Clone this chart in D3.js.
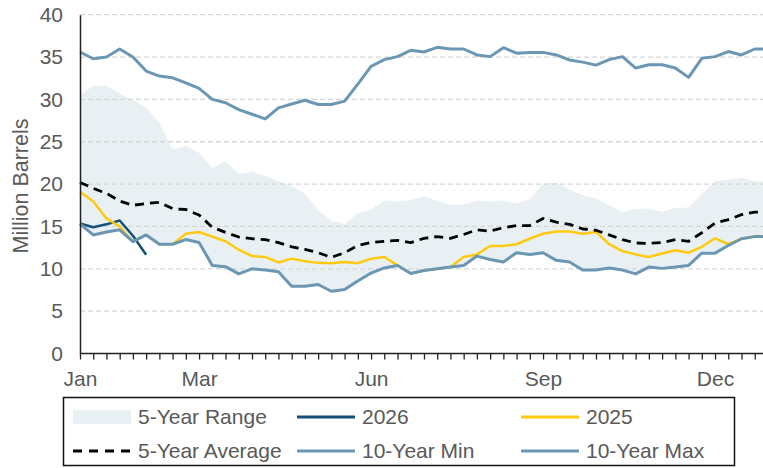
<!DOCTYPE html>
<html>
<head>
<meta charset="utf-8">
<script src="https://cdn.jsdelivr.net/npm/d3@7"></script>
<style>
  html, body { margin: 0; padding: 0; background: #fff; }
  svg { display: block; font-family: "Liberation Sans", Arial, sans-serif; }
</style>
</head>
<body>
<div id="chart"></div>
<script>
// weekly points, week 0 = first week of Jan
const weeks = d3.range(53);

const monthTicks = [0, 9, 22, 35, 48];
const monthLabels = ['Jan', 'Mar', 'Jun', 'Sep', 'Dec'];
const yTicks = [0, 5, 10, 15, 20, 25, 30, 35, 40];

const rangeHigh = [30.5, 31.6, 31.6, 30.7, 29.9, 29.0, 27.25, 24.1, 24.5, 23.7,
  21.9, 22.7, 21.2, 21.45, 21.0, 20.35, 19.75, 18.9, 16.9, 15.7,
  15.3, 16.6, 17.0, 18.05, 17.95, 18.1, 18.6, 18.0, 17.55, 17.55,
  18.05, 17.95, 18.05, 17.7, 18.25, 20.05, 20.15, 19.35, 18.7, 18.3,
  17.5, 16.7, 17.1, 17.1, 16.7, 17.2, 17.2, 18.8, 20.35, 20.55,
  20.75, 20.35, 20.35];

const rangeLow = [15.3, 14.0, 14.35, 14.6, 13.2, 14.0, 12.9, 12.9, 13.45, 13.1,
  10.4, 10.25, 9.4, 10.0, 9.85, 9.65, 7.95, 7.95, 8.15, 7.35,
  7.55, 8.55, 9.5, 10.1, 10.4, 9.45, 9.8, 10.0, 10.2, 10.4,
  11.5, 11.1, 10.8, 11.9, 11.7, 11.9, 11.0, 10.8, 9.85, 9.85,
  10.1, 9.85, 9.4, 10.2, 10.05, 10.2, 10.4, 11.85, 11.85, 12.75,
  13.55, 13.8, 13.8];

const y2026 = [15.35, 14.9, 15.25, 15.7, 13.9, 11.65];

const y2025 = [19.1, 17.95, 15.95, 15.0, 13.2, 14.0, 12.9, 12.9, 14.15, 14.35,
  13.8, 13.25, 12.25, 11.5, 11.4, 10.75, 11.2, 10.9, 10.7, 10.65,
  10.8, 10.65, 11.2, 11.4, 10.4, 9.45, 9.8, 10.0, 10.2, 11.4,
  11.7, 12.7, 12.7, 12.9, 13.55, 14.15, 14.4, 14.4, 14.15, 14.35,
  12.9, 12.1, 11.7, 11.4, 11.8, 12.2, 11.9, 12.6, 13.6, 12.9,
  13.55, 13.85, 13.85];

const avg5 = [20.2, 19.5, 18.9, 18.0, 17.5, 17.7, 17.85, 17.1, 17.0, 16.35,
  14.9, 14.3, 13.75, 13.55, 13.45, 13.1, 12.6, 12.3, 11.9, 11.35,
  11.9, 12.75, 13.1, 13.25, 13.35, 13.1, 13.6, 13.8, 13.6, 14.05,
  14.6, 14.45, 14.85, 15.1, 15.1, 15.95, 15.5, 15.25, 14.7, 14.55,
  14.0, 13.45, 13.05, 13.0, 13.1, 13.45, 13.25, 14.25, 15.4, 15.8,
  16.4, 16.7, 16.7];

const min10 = rangeLow;

const max10 = [35.6, 34.8, 35.0, 35.95, 35.0, 33.35, 32.75, 32.55, 31.95, 31.3,
  30.0, 29.6, 28.8, 28.25, 27.7, 29.0, 29.45, 29.9, 29.4, 29.4,
  29.8, 31.8, 33.9, 34.7, 35.05, 35.8, 35.6, 36.15, 35.95, 35.95,
  35.25, 35.05, 36.1, 35.45, 35.55, 35.55, 35.25, 34.65, 34.4, 34.05,
  34.7, 35.05, 33.7, 34.1, 34.1, 33.7, 32.6, 34.85, 35.05, 35.65,
  35.25, 35.95, 35.95];

const W = 763, H = 468;
const plotLeft = 80, plotTop = 14.7, plotBottom = 353.5;
const step = 13.23;

const colors = {
  range: '#e9f0f4',
  c2026: '#14507a',
  c2025: '#ffc90e',
  avg: '#000000',
  min: '#6b97b4',
  max: '#6b97b4',
  text: '#595959'
};

const svg = d3.select('#chart').append('svg')
  .attr('width', W)
  .attr('height', H);

const x = d3.scaleLinear().domain([0, 52]).range([plotLeft, plotLeft + 52 * step]);
const y = d3.scaleLinear().domain([0, 40]).range([plotBottom, plotTop]);

// 5-year range band
const area = d3.area()
  .x((d, i) => x(weeks[i]))
  .y0((d, i) => y(rangeLow[i]))
  .y1(d => y(d));

svg.append('path')
  .datum(rangeHigh)
  .attr('d', area)
  .attr('fill', colors.range);

// dashed grid
svg.append('g')
  .selectAll('line')
  .data(yTicks.filter(d => d > 0))
  .join('line')
  .attr('x1', plotLeft)
  .attr('x2', W)
  .attr('y1', d => y(d))
  .attr('y2', d => y(d))
  .attr('stroke', '#d6d6d6')
  .attr('stroke-width', 1.3)
  .attr('stroke-dasharray', '5,3');

const line = d3.line()
  .x((d, i) => x(weeks[i]))
  .y(d => y(d));

function drawLine(data, color, width, dash) {
  svg.append('path')
    .datum(data)
    .attr('d', line)
    .attr('fill', 'none')
    .attr('stroke', color)
    .attr('stroke-width', width)
    .attr('stroke-linejoin', 'round')
    .attr('stroke-dasharray', dash || null);
}

drawLine(y2026, colors.c2026, 2.5);
drawLine(y2025, colors.c2025, 2.5);
drawLine(avg5, colors.avg, 2.8, '9,6');
drawLine(min10, colors.min, 3);
drawLine(max10, colors.max, 3);

// y axis
const yAxis = svg.append('g')
  .attr('transform', `translate(${plotLeft},0)`)
  .call(d3.axisLeft(y).tickValues(yTicks).tickSize(0).tickPadding(17));
yAxis.select('.domain').attr('stroke', '#222').attr('stroke-width', 1.5);
yAxis.selectAll('text')
  .attr('fill', colors.text)
  .style('font-size', '21px')
  .style('font-family', '"Liberation Sans", Arial, sans-serif');

// x axis: weekly ticks
const xAxis = svg.append('g')
  .attr('transform', `translate(0,${plotBottom})`)
  .call(d3.axisBottom(x).tickValues(weeks).tickSize(6).tickFormat(''));
xAxis.select('.domain').remove();
xAxis.selectAll('line').attr('stroke', '#222').attr('stroke-width', 1.3);
svg.append('line')
  .attr('x1', plotLeft).attr('x2', W)
  .attr('y1', plotBottom).attr('y2', plotBottom)
  .attr('stroke', '#222').attr('stroke-width', 1.5);

const xLabels = svg.append('g')
  .attr('transform', `translate(0,${plotBottom})`)
  .call(d3.axisBottom(x).tickValues(monthTicks).tickSize(0).tickPadding(18)
    .tickFormat((d, i) => monthLabels[i]));
xLabels.select('.domain').remove();
xLabels.selectAll('text')
  .attr('fill', colors.text)
  .style('font-size', '21px')
  .style('font-family', '"Liberation Sans", Arial, sans-serif');

// y title
svg.append('text')
  .attr('transform', 'translate(28,186) rotate(-90)')
  .attr('text-anchor', 'middle')
  .attr('fill', colors.text)
  .style('font-size', '21.5px')
  .text('Million Barrels');

// legend
const legend = svg.append('g');
legend.append('rect')
  .attr('x', 63.5).attr('y', 397.5)
  .attr('width', 671).attr('height', 68)
  .attr('fill', 'none')
  .attr('stroke', '#111')
  .attr('stroke-width', 1.5);

const legendItems = [
  { label: '5-Year Range', kind: 'area', color: colors.range, col: 0, row: 0 },
  { label: '2026', kind: 'line', color: colors.c2026, col: 1, row: 0 },
  { label: '2025', kind: 'line', color: colors.c2025, col: 2, row: 0 },
  { label: '5-Year Average', kind: 'dash', color: colors.avg, col: 0, row: 1 },
  { label: '10-Year Min', kind: 'line', color: colors.min, col: 1, row: 1 },
  { label: '10-Year Max', kind: 'line', color: colors.max, col: 2, row: 1 }
];
const colX = [72, 296, 520];
const rowY = [417, 451];

legendItems.forEach(it => {
  const lx = colX[it.col], ly = rowY[it.row];
  if (it.kind === 'area') {
    legend.append('rect')
      .attr('x', lx + 1).attr('y', ly - 7)
      .attr('width', 58).attr('height', 14)
      .attr('fill', it.color);
  } else {
    legend.append('line')
      .attr('x1', lx + 1).attr('x2', lx + 59)
      .attr('y1', ly).attr('y2', ly)
      .attr('stroke', it.color)
      .attr('stroke-width', it.kind === 'dash' ? 2.8 : 3)
      .attr('stroke-dasharray', it.kind === 'dash' ? '9,7' : null);
  }
  legend.append('text')
    .attr('x', lx + 66)
    .attr('y', ly)
    .attr('dy', '0.35em')
    .attr('fill', colors.text)
    .style('font-size', '21px')
    .text(it.label);
});
</script>
</body>
</html>
